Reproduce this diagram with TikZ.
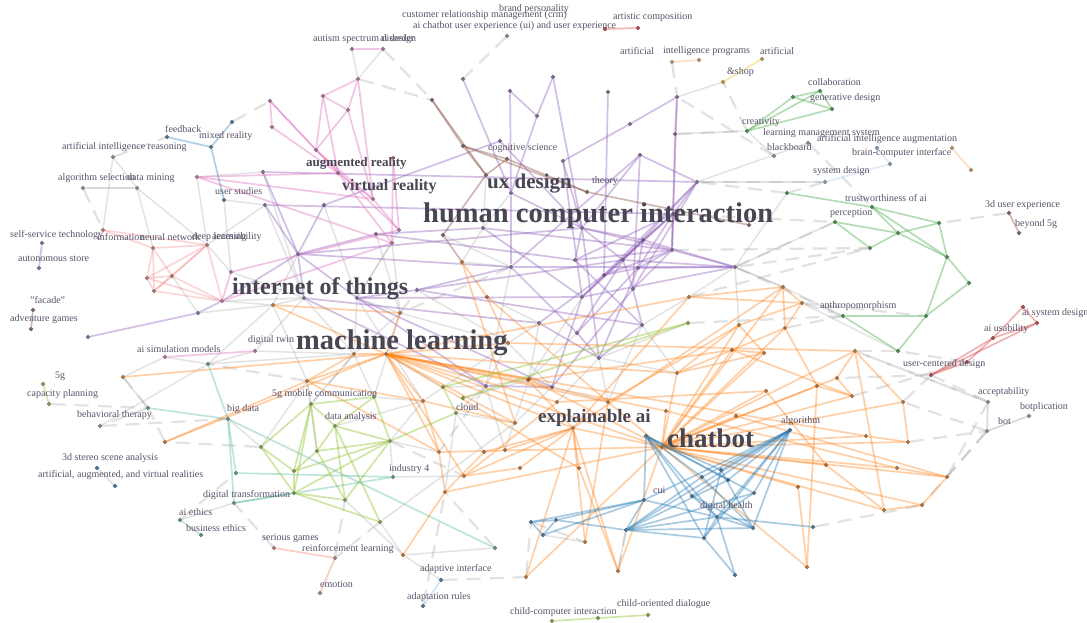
\documentclass[tikz,border=0pt]{standalone}
\usepackage{fontspec}
\setmainfont{Liberation Serif}
\usetikzlibrary{shapes.geometric}
\pgfdeclarelayer{bg}
\pgfsetlayers{bg,main}
\definecolor{cpur}{RGB}{148,103,189}
\definecolor{corg}{RGB}{255,127,14}
\definecolor{clor}{RGB}{255,180,110}
\definecolor{cblu}{RGB}{31,119,180}
\definecolor{clbl}{RGB}{150,190,225}
\definecolor{cgrn}{RGB}{44,160,44}
\definecolor{cpnk}{RGB}{227,119,194}
\definecolor{cred}{RGB}{214,39,40}
\definecolor{clrd}{RGB}{245,130,130}
\definecolor{cbrn}{RGB}{140,86,75}
\definecolor{clim}{RGB}{150,200,60}
\definecolor{ctea}{RGB}{80,180,150}
\definecolor{cyel}{RGB}{240,200,40}
\definecolor{csal}{RGB}{240,140,120}
\definecolor{cgry}{RGB}{165,165,165}
\definecolor{ctxt}{RGB}{88,82,104}
\definecolor{cbig}{RGB}{72,70,82}
\tikzset{
  dot/.style={diamond, inner sep=0pt, minimum width=5pt, minimum height=5pt, fill=#1!55!black, fill opacity=0.75, draw=none},
  ed/.style={draw=#1, line width=1.7pt, draw opacity=0.42},
  gline/.style={draw=cgry, line width=1.5pt, draw opacity=0.3},
  gdsh/.style={draw=cgry, line width=2.2pt, draw opacity=0.32, dash pattern=on 14pt off 9pt},
  lab/.style={font=\fontsize{10}{10}\selectfont, text=ctxt, inner sep=0pt, anchor=west},
  big/.style={font=\fontsize{#1}{#1}\selectfont\bfseries, text=cbig, inner sep=0pt, anchor=west}
}
\begin{document}
\begin{tikzpicture}[x=1pt,y=-1pt]
\useasboundingbox (0,0) rectangle (1087,622);
% ---------------- nodes ----------------
\foreach \n/\x/\y in {P1/463/79, P2/510/91, P3/553/77, P4/537/116, P5/608/92, P6/677/97, P7/630/124, P8/675/134, P9/563/161, P10/640/155, P11/697/182, P12/511/193, P13/582/228, P14/673/214, P15/643/240, P16/672/250, P17/623/260, P18/638/268, P19/604/275, P20/575/260, P21/511/267, P22/582/297, P23/633/289, P24/735/267, P25/539/323, P26/577/333, P27/642/325, P28/599/358, P29/552/387, P30/486/386, P31/265/205, P32/324/205, P33/298/254, P34/376/234, P35/417/290, P36/357/298, P37/304/298, P38/263/172, P39/198/313, P40/88/337, P41/42/243, P42/39/268, P43/483/228, P45/500/141}
  \node[dot=cpur] (\n) at (\x,\y) {};
\foreach \n/\x/\y in {K1/352/49, K2/383/49, K3/358/79, K4/323/96, K5/348/110, K6/270/101, K7/272/127, K8/316/150, K9/338/173, K11/373/199, K12/393/158, K13/197/177, K14/399/230, K15/392/243, K16/231/272, K17/222/301, K18/255/351, K19/165/357}
  \node[dot=cpnk] (\n) at (\x,\y) {};
\foreach \n/\x/\y in {R1/153/248, R2/207/245, R3/147/278, R4/172/276, R5/154/291, R6/103/230}
  \node[dot=clrd] (\n) at (\x,\y) {};
\foreach \n/\x/\y in {B1/167/137, B2/232/122, B3/211/147, B4/224/200, T10/97/468, T11/115/486, A1/441/580, A2/423/606}
  \node[dot=cblu] (\n) at (\x,\y) {};
\foreach \n/\x/\y in {G1/113/157, G2/83/188, G3/137/188, G4/100/426, G5/988/402, G6/1029/416, G7/987/431, G8/507/36, G9/774/156, G10/808/143}
  \node[dot=cgry] (\n) at (\x,\y) {};
\foreach \n/\x/\y in {N1/432/100, N2/463/146, N3/507/159, N4/486/175, N5/587/192, N6/443/235, N7/33/310, N8/31/329, N9/1009/213, N10/1019/233, N11/749/225}
  \node[dot=cbrn] (\n) at (\x,\y) {};
\foreach \n/\x/\y in {O1/386/354, O2/354/354, O3/307/381, O4/123/377, O5/273/305, O6/165/442, O7/462/262, O8/487/297, O9/400/313, O10/508/343, O11/689/297, O12/677/373, O13/423/401, O14/528/380, O15/557/402, O16/608/402, O17/515/423, O18/573/428, O20/783/287, O21/802/303, O22/739/325, O23/785/328, O24/732/350, O25/764/353, O26/855/351, O27/837/378, O29/766/391, O30/817/386, O31/852/396, O32/903/402, O34/666/411, O35/736/416, O36/866/436, O37/908/442, O38/826/465, O39/897/468, O40/947/477, O41/798/487, O42/922/505, O43/884/510, O44/807/567, O45/618/571, O46/526/577, O47/585/542, O48/579/468, O49/520/468, O50/484/452, O51/505/450, O52/439/452, O53/464/476, O54/445/492, O55/529/379, O58/403/555, O61/662/447}
  \node[dot=corg] (\n) at (\x,\y) {};
\foreach \n/\x/\y in {C1/646/436, C2/790/430, C3/721/470, C4/702/477, C5/728/480, C6/692/496, C7/754/493, C8/644/500, C9/717/517, C10/626/530, C11/704/538, C12/753/528, C13/813/527, C14/735/575, C15/531/522, C16/556/520, C17/543/535}
  \node[dot=cblu] (\n) at (\x,\y) {};
\foreach \n/\x/\y in {E1/793/97, E2/820/91, E3/832/109, E4/747/131, E5/787/193, E6/872/207, E7/835/222, E8/898/233, E9/939/223, E10/870/248, E11/947/257, E12/969/283, E13/926/316, E14/898/351, E15/843/316}
  \node[dot=cgrn] (\n) at (\x,\y) {};
\foreach \n/\x/\y in {L1/311/404, L2/335/426, L3/390/441, L4/317/451, L5/261/447, L6/294/471, L7/294/493, L8/345/500, L9/380/522, L10/374/397, L11/456/413, L12/688/323, L13/443/387, L14/463/398, L15/43/384, L16/49/404, L17/552/621, L18/598/618, L19/648/615}
  \node[dot=clim] (\n) at (\x,\y) {};
\foreach \n/\x/\y in {T1/208/364, T2/228/419, T3/148/408, T4/236/473, T5/234/503, T6/393/477, T7/495/548, T8/180/520, T9/201/535}
  \node[dot=ctea] (\n) at (\x,\y) {};
\foreach \n/\x/\y in {S1/274/548, S2/335/558, S3/320/593}
  \node[dot=csal] (\n) at (\x,\y) {};
\foreach \n/\x/\y in {RR1/1023/307, RR2/1037/323, RR3/993/338, RR4/967/362, RR5/931/375, RR6/605/29, RR7/638/28}
  \node[dot=cred] (\n) at (\x,\y) {};
\foreach \n/\x/\y in {Y1/672/62, Y2/699/60, OO1/952/148, OO2/971/170}
  \node[dot=clor] (\n) at (\x,\y) {};
\foreach \n/\x/\y in {Y3/762/59, Y4/723/82}
  \node[dot=cyel] (\n) at (\x,\y) {};
\foreach \n/\x/\y in {BB1/877/148, BB2/890/164, BB3/825/182}
  \node[dot=clbl] (\n) at (\x,\y) {};
% ---------------- edges ----------------
\begin{pgfonlayer}{bg}
\fill[white] (0,0) rectangle (1087,622);
% gray dashed background links
\foreach \a/\b in {G5/O26, G7/O40, G7/O32, RR5/O27, E15/O21, E7/P24, E5/P11, E4/Y4, G9/P6, G10/E6, E14/O26, RR4/E14, E10/P24, BB3/E5, N9/E9, G5/RR5, L12/E15, O6/T3, L5/O6, T3/O4, G4/T2, T8/T4, S1/T5, S2/L8, A1/O46, A2/O54, L9/S2, T7/O54, O46/C15, C15/O47, C10/O45, G8/P1, K2/N1, Y1/P6, K3/N1, P24/E15, O21/E13, O37/G7, O40/G5, B2/K6, G1/B1, O2/L1, O9/P35, L3/O53, O3/T1, P30/O52, P21/O9, O11/E10, C13/O42, G2/R6,
  P14/E7, P16/E10, O23/E15, O31/RR4, O32/RR5, G7/O42, T3/G4, L16/T3, P8/E4, P11/BB3, O26/G5}
  \draw[gdsh] (\a) -- (\b);
% gray solid background links
\foreach \a/\b in {K1/K3, K2/K3, E4/P8, E5/P24, E7/P24, BB3/P11, Y4/P6, G9/E4, G10/P11, T8/T5, G4/T1, G3/R2, R6/G1, O2/P37, O2/P36, O3/L1, O5/P33, O9/P36, L10/O2, O13/L3, O10/P30, O14/P29, L11/O17, P30/O55, O8/P25, O7/P21, P22/O55, P26/O14, K19/T1, O4/T3, L5/T2, T1/O2, K18/O2, P39/O5, R4/P39, P37/K18, P36/O13, O9/O10, P25/O10, L13/O1, O17/L9, P29/O16, P28/O16, O3/L5, L1/O2, L2/O13, G1/G3, G3/R1, O12/P28, P24/O20, O11/P27, O55/P25, O51/P30, K16/R2, K13/R2, O52/L3, L8/O58, O45/C10, O47/C17,
  P31/P37, P32/P36, P38/P37, K14/P36, K15/O9, P34/O9, P35/O10, P21/P30, N6/P21, P43/O7, P12/P43, N4/P43, O5/P37, K17/O5, R2/P31, P38/K13, B4/P31, B4/K16, K16/P37, O3/O5, T1/O5, L10/O9, O13/O10, L11/P30, O17/P29, O51/O55, P29/O10, P28/O15, O16/P27, O12/P27, P24/O11, L12/P28, P24/O22, O20/P24, E15/O20, O21/E14, L13/P30, L14/O14, O53/T6, T6/L3, L9/O58, O58/T7, A1/O58, O54/L11, O50/L11, K19/O4, T1/K18, P36/K15, P37/K17, O2/O9, L10/O13, O3/L4}
  \draw[gline] (\a) -- (\b);
% purple
\foreach \a/\b in {P1/P12, P2/P12, P2/P4, P3/P4, P4/P12, P5/P19, P6/P8, P6/P7, P7/P9, P8/P16, P6/P16, P10/P13, P10/P23, P9/P13, P11/P14, P11/P23, P11/P22, P12/P13, P12/P21, P13/P15, P13/P16, P13/P17, P13/P20, P14/P15, P14/P17, P14/P19, P14/P18, P14/P20, P15/P18, P15/P22, P16/P19, P16/P20, P16/P23, P17/P22, P17/P26, P18/P26, P18/P28, P19/P25, P20/P27, P21/P24, P22/P29, P23/P29, P24/P15, P24/P17, P24/P22, P24/P18, P25/P28, P26/P28, P27/P28, P29/P30, P30/P36, P21/P33, P31/P14, P38/P11, P31/P33, P32/P33, P33/P34, P33/P36, P33/P37, P33/P38, P33/P13, P35/P36, P35/P27, P36/P22, P37/P25, P39/P40, P39/K17, K17/P33, P41/P42, P34/P20, P32/P45, P45/P13, P43/P16, P43/P22, P21/P26, P36/P29, P35/P17, P11/P17, P10/P11, P9/P22, P3/P13, P37/P30, P21/P35, P13/P28, P23/P27, P10/P21, P34/P43, P14/P16, P15/P17, P18/P19, P16/P18, P17/P23, P24/P16}
  \draw[ed=cpur] (\a) -- (\b);
% pink
\foreach \a/\b in {K1/K2, K3/K4, K3/K5, K4/K5, K4/K9, K5/K8, K3/K11, K6/K7, K6/K8, K7/K9, K8/K11, K9/K11, K8/K14, K9/K15, K11/K14, K12/K14, K13/K11, K13/K15, K16/K17, K17/K15, K18/K19, K16/K14, K12/K15, K4/K8, K13/K9, K5/K11, K6/K9}
  \draw[ed=cpnk] (\a) -- (\b);
% light red
\foreach \a/\b in {R1/R2, R1/R3, R1/R4, R1/R5, R2/R3, R2/R4, R2/R5, R3/R4, R4/R5, R3/R5, R2/K17, R4/K17, R5/K17, R6/R2, R6/R1, R3/K17}
  \draw[ed=clrd, draw opacity=0.32] (\a) -- (\b);
% brown
\foreach \a/\b in {N1/N2, N2/N3, N2/N4, N3/N5, N3/N4, N4/N6, N7/N8, N9/N10, N2/N5, N5/N11, N6/O7, N1/N4}
  \draw[ed=cbrn] (\a) -- (\b);
% orange
\foreach \a/\b in {O1/O10, O1/O14, O1/O15, O1/O16, O1/O17, O1/O18, O1/O12, O1/O61, O1/O13, O1/O52, O1/O53, O1/O11, O1/O36, O1/O4, O1/O5, O1/O3, O1/O6, O1/O2, O1/O55, O1/O48, O1/O34,
  O61/O20, O61/O22, O61/O23, O61/O24, O61/O25, O61/O26, O61/O27, O61/O29, O61/O30, O61/O31, O61/O32, O61/O36, O61/O37, O61/O38, O61/O39, O61/O40, O61/O41, O61/O42, O61/O43, O61/O44, O61/O45, O61/O46, O61/O18, O61/O12, O61/O16, O61/O55, O61/O52, O61/O54, O61/O35, O61/O34,
  O18/O14, O18/O47, O18/O48, O18/O49, O18/O50, O18/O11, O18/O20, O18/O45, O18/O46, O18/O51, O18/O53,
  O20/O21, O20/O23, O21/O23, O22/O25, O24/O25, O26/O32, O27/O31, O26/O27, O30/O31, O32/O37, O36/O37, O39/O40, O42/O43, O40/O42, O38/O43, O22/O12, O11/O21, O11/O20, O7/O8, O8/O10, O5/O9, O9/O1, O3/O13, O13/O52, O52/O54, O54/O58, O53/O15, O41/O44, O2/O3, O6/O3, O7/O17, O8/O16, O10/O26, O14/O24, O15/O29, O16/O22, O12/O25, O35/O40, O34/O39, O29/O38, O24/O31, O23/O30, O26/O43, O49/O53, O50/O54, O13/O17, O45/O48, O47/O16, O44/O30, O12/O23, O21/O22, O3/O52}
  \draw[ed=corg, draw opacity=0.36] (\a) -- (\b);
% blue chatbot cluster
\foreach \a/\b in {C1/C3, C1/C5, C1/C6, C1/C9, C1/C11, C1/C8, C2/C3, C2/C4, C2/C6, C2/C9, C2/C10, C2/C11, C2/C12, C2/C7, C8/C15, C8/C16, C8/C17, C8/C9, C10/C12, C10/C11, C10/C9, C12/C9, C11/C9, C9/C13, C9/C14, C3/C11, C4/C12, C6/C12, C15/C17, C16/C17, C15/C16, C10/C7, C4/C10, C1/C4, C2/C5, C3/C12, C5/C10, C6/C9, C8/C10, C9/C7, C1/C7, C2/C8, C16/C10, C11/C14}
  \draw[ed=cblu, draw opacity=0.38] (\a) -- (\b);
% green
\foreach \a/\b in {E1/E2, E1/E3, E2/E3, E4/E1, E4/E2, E4/E3, E5/E6, E6/E8, E6/E9, E6/E11, E7/E8, E7/E10, E8/E9, E8/E10, E8/E11, E9/E11, E11/E12, E11/E13, E12/E13, E13/E14, E13/E15, E15/E14}
  \draw[ed=cgrn, draw opacity=0.35] (\a) -- (\b);
% lime
\foreach \a/\b in {L1/L5, L1/L2, L1/L6, L1/L7, L2/L3, L2/L4, L2/L8, L3/L4, L3/L6, L3/L10, L3/L11, L4/L6, L4/L8, L5/L6, L6/L7, L7/L8, L7/L9, L8/L3, L9/L2, L10/L1, L11/L13, L13/L12, L14/L12, L15/L16, L17/L18, L18/L19, L5/L7, L1/L4, L10/L2, L3/L7}
  \draw[ed=clim, draw opacity=0.45] (\a) -- (\b);
% teal
\foreach \a/\b in {T1/T2, T2/T3, T2/T4, T2/T5, T2/T7, T4/T6, T5/L7, T8/T9, T5/T6}
  \draw[ed=ctea, draw opacity=0.35] (\a) -- (\b);
% small groups
\draw[ed=clbl] (T10) -- (T11);
\draw[ed=csal] (S1) -- (S2);
\draw[ed=csal] (S2) -- (S3);
\draw[ed=clbl] (A1) -- (A2);
\foreach \a/\b in {RR1/RR2, RR1/RR3, RR2/RR3, RR3/RR4, RR3/RR5, RR2/RR5, RR4/RR5, RR6/RR7}
  \draw[ed=cred, draw opacity=0.35] (\a) -- (\b);
\draw[ed=clor] (Y1) -- (Y2);
\draw[ed=cyel] (Y3) -- (Y4);
\draw[ed=clor] (OO1) -- (OO2);
\draw[ed=clbl, draw opacity=0.3] (BB1) -- (BB2);
\draw[ed=clbl, draw opacity=0.3] (BB2) -- (BB3);
\foreach \a/\b in {B1/B3, B3/B2, B3/B4}
  \draw[ed=cblu, draw opacity=0.35] (\a) -- (\b);
\foreach \a/\b in {G2/G3, G5/G7, G7/G6}
  \draw[ed=cgry] (\a) -- (\b);
\end{pgfonlayer}
% ---------------- labels ----------------
\node[lab] (t1) at (402,15) {customer relationship management (crm)};
\node[lab] (t2) at (499,9) {brand personality};
\node[lab] (t3) at (413,26) {ai chatbot user experience (ui) and user experience};
\node[lab] (t4) at (613,17) {artistic composition};
\node[lab] (t5) at (313,39) {autism spectrum disorder};
\node[lab] (t6) at (380,39) {ai design};
\node[lab] (t7) at (620,51) {artificial};
\node[lab] (t8) at (663,51) {intelligence programs};
\node[lab] (t9) at (760,51) {artificial};
\node[lab] (t10) at (727,72) {\&shop};
\node[lab] (t11) at (808,82) {collaboration};
\node[lab] (t12) at (810,98) {generative design};
\node[lab] (t13) at (742,122) {creativity};
\node[lab] (t14) at (763,133) {learning management system};
\node[lab] (t15) at (817,139) {artificial intelligence augmentation};
\node[lab] (t16) at (767,147) {blackboard};
\node[lab] (t17) at (852,153) {brain-computer interface};
\node[lab] (t18) at (813,171) {system design};
\node[lab] (t19) at (165,129) {feedback};
\node[lab] (t20) at (199,136) {mixed reality};
\node[lab] (t21) at (62,147) {artificial intelligence reasoning};
\node[lab] (t22) at (58,178) {algorithm selection};
\node[lab] (t23) at (127,178) {data mining};
\node[lab] (t24) at (488,148) {cognitive science};
\node[lab] (t25) at (592,181) {theory};
\node[lab] (t26) at (215,191) {user studies};
\node[lab] (t27) at (845,198) {trustworthiness of ai};
\node[lab] (t28) at (985,205) {3d user experience};
\node[lab] (t29) at (830,213) {perception};
\node[lab] (t30) at (1015,224) {beyond 5g};
\node[lab] (t31) at (10,235) {self-service technology};
\node[lab] (t32) at (97,237) {information};
\node[lab] (t33) at (140,237) {neural network};
\node[lab] (t34) at (192,237) {deep learning};
\node[lab] (t35) at (212,237) {accessibility};
\node[lab] (t36) at (18,259) {autonomous store};
\node[lab] (t37) at (30,300) {"facade"};
\node[lab] (t38) at (10,319) {adventure games};
\node[lab] (t39) at (820,306) {anthropomorphism};
\node[lab] (t40) at (1022,313) {ai system design};
\node[lab] (t41) at (984,329) {ai usability};
\node[lab] (t42) at (248,340) {digital twin};
\node[lab] (t43) at (137,349) {ai simulation models};
\node[lab] (t44) at (903,364) {user-centered design};
\node[lab] (t45) at (55,376) {5g};
\node[lab] (t46) at (978,392) {acceptability};
\node[lab] (t47) at (27,394) {capacity planning};
\node[lab] (t48) at (272,394) {5g mobile communication};
\node[lab] (t49) at (456,407) {cloud};
\node[lab] (t50) at (1020,407) {botplication};
\node[lab] (t51) at (227,409) {big data};
\node[lab] (t52) at (77,415) {behavioral therapy};
\node[lab] (t53) at (325,417) {data analysis};
\node[lab] (t54) at (998,421) {bot};
\node[lab] (t55) at (781,421) {algorithm};
\node[lab] (t56) at (62,458) {3d stereo scene analysis};
\node[lab] (t57) at (389,469) {industry 4};
\node[lab] (t58) at (38,475) {artificial, augmented, and virtual realities};
\node[lab] (t59) at (653,490) {cui};
\node[lab] (t60) at (203,495) {digital transformation};
\node[lab] (t61) at (700,506) {digital health};
\node[lab] (t62) at (179,512) {ai ethics};
\node[lab] (t63) at (186,528) {business ethics};
\node[lab] (t64) at (262,538) {serious games};
\node[lab] (t65) at (302,549) {reinforcement learning};
\node[lab] (t66) at (420,569) {adaptive interface};
\node[lab] (t67) at (320,584) {emotion};
\node[lab] (t68) at (407,597) {adaptation rules};
\node[lab] (t69) at (617,604) {child-oriented dialogue};
\node[lab] (t70) at (510,612) {child-computer interaction};
% big labels
\node[big=13] (b1) at (306,163) {augmented reality};
\node[big=16] (b2) at (342,187) {virtual reality};
\node[big=21] (b3) at (487,184) {ux design};
\node[big=28.5] (b4) at (423,216) {human computer interaction};
\node[big=24] (b5) at (232,289) {internet of things};
\node[big=28.5] (b6) at (296,343) {machine learning};
\node[big=19] (b7) at (538,418) {explainable ai};
\node[big=27] (b8) at (667,438) {chatbot};
\end{tikzpicture}
\end{document}
